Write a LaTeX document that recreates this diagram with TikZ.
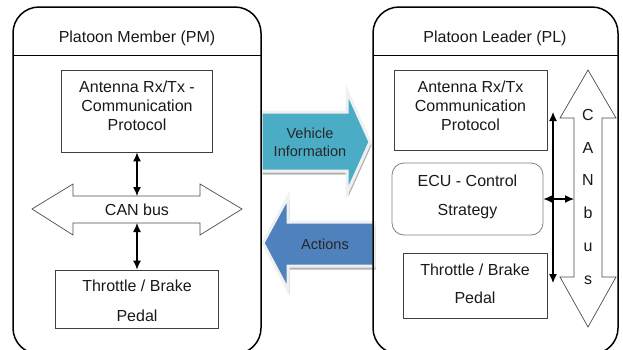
\documentclass[tikz,border=0pt]{standalone}
\usepackage{fontspec}
\setmainfont{Liberation Sans}
\usetikzlibrary{arrows.meta}
\usepackage{xcolor}
\definecolor{infoteal}{HTML}{4BACC6}
\definecolor{actblue}{HTML}{4F81BD}
\newcommand{\flowarrow}[2] {
    \fill[black!30,shift={(1.5,3.5)}] #2 -- cycle;
    \filldraw[draw=black!6,line width=3pt,fill={#1}] #2 -- cycle;
}
\tikzset{
    pane/.style={draw=black,line width=1.5pt,rounded corners=26pt},
    unit/.style={draw=black!75,line width=0.8pt,inner sep=0pt},
    ecubox/.style={unit,draw=black!50,rounded corners=12pt},
    caption/.style={font=\fontsize{16}{19}\selectfont,align=center,text=black!90},
    flowtext/.style={font=\fontsize{14.5}{18}\selectfont,align=center,text=black!85},
    link/.style={line width=1.2pt,{Latex[length=9pt,width=8pt]}-{Latex[length=9pt,width=8pt]}},
    bus/.style={draw=black!70,line width=0.7pt,fill=white}
}
\begin{document}
\begin{tikzpicture}[x=1pt,y=-1pt]
    \useasboundingbox (0,0) rectangle (623,349);
    \clip (0,0) rectangle (623,349);
    % messages between the two vehicles
    \flowarrow{infoteal}{(261,112) -- (347,112) -- (347,91) -- (370,142) -- (347,193) -- (347,171) -- (261,171)}
    \flowarrow{actblue}{(263,243) -- (288,197) -- (288,222) -- (374,222) -- (374,266) -- (288,266) -- (288,290)}
    \node[flowtext] (vinfo) at (310,142) {Vehicle\\Information};
    \node[flowtext] (actions) at (325,244) {Actions};
    % platoon member
    \draw[pane] (13,7) rectangle (261,354);
    \draw[line width=0.8pt] (13,55) -- (261,55);
    \node[caption] (pmtitle) at (137,38) {Platoon Member (PM)};
    \node[unit,minimum width=151pt,minimum height=82pt] (antpm) at (137,111) {};
    \node[caption] (antpmtext) at (137,106) {Antenna Rx/Tx -\\Communication\\Protocol};
    \draw[bus] (32,209) -- (73,184) -- (73,196) -- (200,196) -- (200,184) -- (242,209)
        -- (200,235) -- (200,223) -- (73,223) -- (73,235) -- cycle;
    \node[caption] (buspm) at (137,210) {CAN bus};
    \coordinate (buspmtop) at (137,196);
    \coordinate (buspmbot) at (137,223);
    \node[unit,minimum width=163pt,minimum height=58pt] (thrpm) at (137,299) {};
    \node[caption] (thrpmtext) at (137,301) {Throttle / Brake\\[11pt]Pedal};
    \draw[link] (antpm.south) -- (buspmtop);
    \draw[link] (buspmbot) -- (thrpm.north);
    % platoon leader
    \draw[pane] (373,7) rectangle (618,354);
    \draw[line width=0.8pt] (373,55) -- (618,55);
    \node[caption] (pltitle) at (495,38) {Platoon Leader (PL)};
    \node[unit,minimum width=153pt,minimum height=80pt] (antpl) at (470.5,110) {};
    \node[caption] (antpltext) at (470.5,106) {Antenna Rx/Tx\\Communication\\Protocol};
    \node[ecubox,minimum width=151pt,minimum height=72pt] (ecu) at (467.5,199) {};
    \node[caption] (ecutext) at (467.5,197) {ECU - Control\\[10pt]Strategy};
    \node[unit,minimum width=144pt,minimum height=65pt] (thrpl) at (475,285.5) {};
    \node[caption] (thrpltext) at (475,284) {Throttle / Brake\\[9pt]Pedal};
    \draw[bus] (588,70) -- (616,118) -- (602,118) -- (602,277) -- (616,277) -- (588,327)
        -- (560,277) -- (574,277) -- (574,118) -- (560,118) -- cycle;
    \foreach \ch/\yy in {C/114,A/147,N/179,b/212,u/245,s/278}
        \node[caption,anchor=base,inner sep=0pt] (bus\ch) at (588,{\yy+6}) {\ch};
    \coordinate (busplside) at (574,199);
    \coordinate (plup) at (553,112);
    \coordinate (pldown) at (553,283);
    \draw[link] (plup) -- (pldown);
    \draw[link] (ecu.east) -- (busplside);
\end{tikzpicture}
\end{document}
